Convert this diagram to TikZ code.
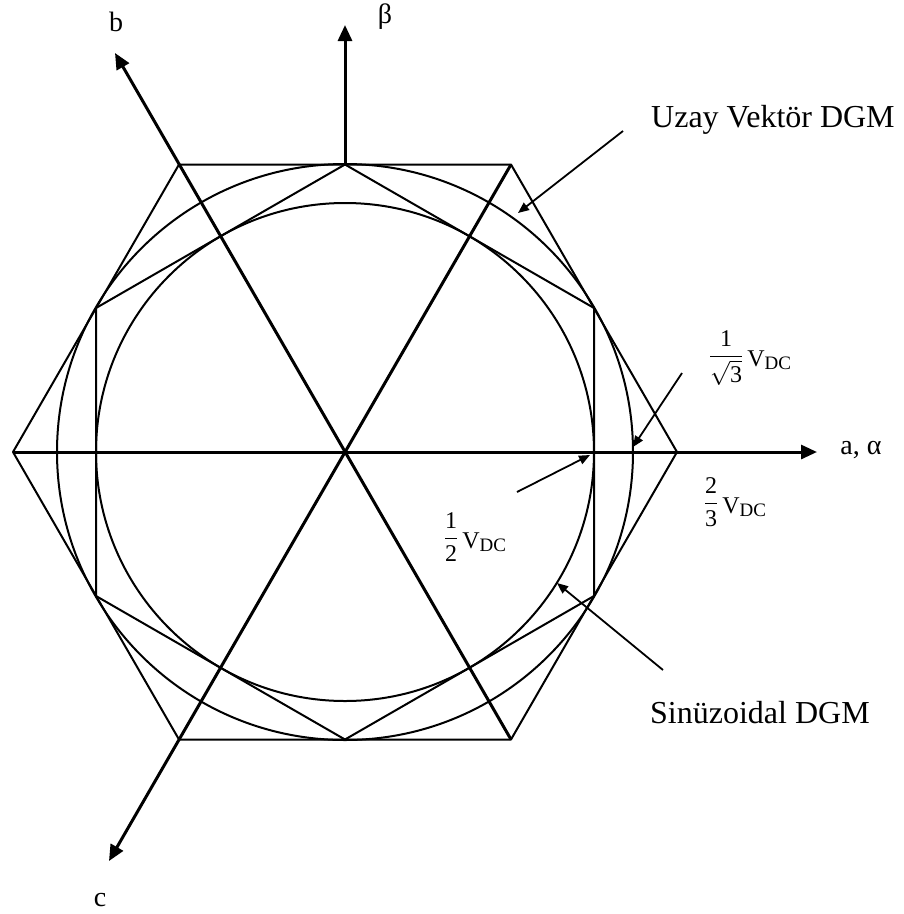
\RequirePackage{fix-cm}
\documentclass[tikz,border=0pt]{standalone}
\usepackage{fontspec}
\usepackage{amsmath}
\setmainfont{Liberation Serif}
\usetikzlibrary{arrows.meta}
\newcommand{\vdcsub}{V\raisebox{-0.12em}{\fontsize{19}{20}\selectfont DC}}
\begin{document}
\begin{tikzpicture}[x=1pt,y=-1pt,
  shapeline/.style={line width=2pt, line join=round},
  axisline/.style={line width=3pt, -{Triangle[length=16pt,width=14pt]}},
  pointer/.style={line width=1.8pt, -{Triangle[length=11pt,width=9pt]}},
  axlbl/.style={font=\fontsize{28}{30}\selectfont, inner sep=0pt},
  biglbl/.style={font=\fontsize{32}{36}\selectfont, inner sep=0pt, anchor=base west},
  fraclbl/.style={font=\fontsize{24}{28}\selectfont, inner sep=0pt}]
\useasboundingbox (0,0) rectangle (904,914);
% centre and hexagon vertices
\coordinate (O) at (345,452);
\coordinate (A0) at (677,452);
\coordinate (A60) at (511,164.5);
\coordinate (A120) at (179,164.5);
\coordinate (A180) at (13,452);
\coordinate (A240) at (179,739.5);
\coordinate (A300) at (511,739.5);
\coordinate (B90) at (345,164.5);
\coordinate (B30) at (594,308);
\coordinate (B330) at (594,596);
\coordinate (B270) at (345,739.5);
\coordinate (B210) at (96,596);
\coordinate (B150) at (96,308);
% outer hexagon
\draw[shapeline] (A0) -- (A60) -- (A120) -- (A180) -- (A240) -- (A300) -- cycle;
% inner hexagon
\draw[shapeline] (B90) -- (B150) -- (B210) -- (B270) -- (B330) -- (B30) -- cycle;
% circles
\draw[shapeline] (O) circle[radius=288pt];
\draw[shapeline] (O) circle[radius=249pt];
% axes
\coordinate (alphaEnd) at (817,452);
\coordinate (betaEnd) at (345,25);
\coordinate (bEnd) at (115,53);
\coordinate (cEnd) at (109,861);
\draw[axisline] (A180) -- (alphaEnd);
\draw[axisline] (B90) -- (betaEnd);
\draw[axisline] (A300) -- (bEnd);
\draw[axisline] (A60) -- (cEnd);
% axis labels
\node[axlbl] (lb) at (116,22) {b};
\node[axlbl] (lbeta) at (385,17) {β};
\node[axlbl] (lalpha) at (861,450) {a, α};
\node[axlbl] (lc) at (100,900) {c};
% text labels
\node[biglbl] (uzay) at (651,127) {Uzay Vektör DGM};
\node[biglbl] (sinus) at (650,723) {Sinüzoidal DGM};
\node[fraclbl] (f3) at (750,358) {$\displaystyle\frac{\text{1}}{\sqrt{\text{3}}}$\,\raisebox{-4pt}{\vdcsub}};
\node[fraclbl] (f23) at (735,502) {$\displaystyle\frac{\text{2}}{\text{3}}$\,\raisebox{-4pt}{\vdcsub}};
\node[fraclbl] (f12) at (475,537) {$\displaystyle\frac{\text{1}}{\text{2}}$\,\raisebox{-4pt}{\vdcsub}};
% pointers
\coordinate (uzT) at (623,131); \coordinate (uzH) at (518,213);
\coordinate (f3T) at (682,373); \coordinate (f3H) at (633,447);
\coordinate (f12T) at (517,492); \coordinate (f12H) at (590,455);
\coordinate (snT) at (663,670); \coordinate (snH) at (557,583);
\draw[pointer] (uzT) -- (uzH);
\draw[pointer] (f3T) -- (f3H);
\draw[pointer] (f12T) -- (f12H);
\draw[pointer] (snT) -- (snH);
\end{tikzpicture}
\end{document}
